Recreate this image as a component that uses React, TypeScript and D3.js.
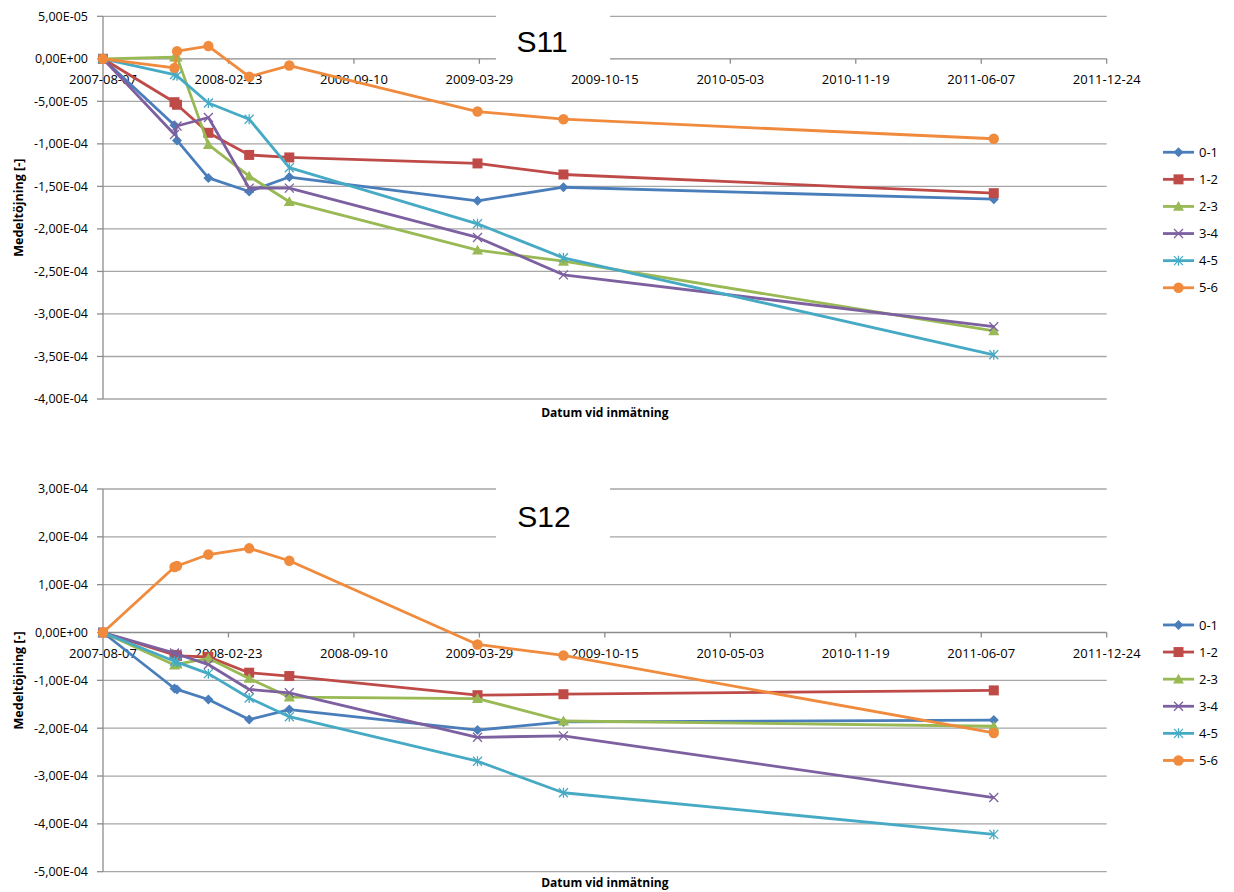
import React from "react";
import * as d3 from "d3";

// ---------- DATA ----------
const DATES = [
  "2007-08-07", "2007-11-29", "2007-12-03", "2008-01-22", "2008-03-27",
  "2008-05-30", "2009-03-26", "2009-08-10", "2011-06-27",
];
const SERIES_NAMES = ["0-1", "1-2", "2-3", "3-4", "4-5", "5-6"];

// S11
const S11_01 = [0, -7.8e-5, -9.6e-5, -1.40e-4, -1.56e-4, -1.39e-4, -1.67e-4, -1.51e-4, -1.65e-4];
const S11_12 = [0, -5.1e-5, -5.4e-5, -8.7e-5, -1.13e-4, -1.16e-4, -1.23e-4, -1.36e-4, -1.58e-4];
const S11_23 = [0, 2e-6, 2e-6, -1.01e-4, -1.38e-4, -1.68e-4, -2.25e-4, -2.38e-4, -3.20e-4];
const S11_34 = [0, -8.9e-5, -7.9e-5, -6.9e-5, -1.52e-4, -1.52e-4, -2.10e-4, -2.54e-4, -3.15e-4];
const S11_45 = [0, -1.85e-5, -2.0e-5, -5.2e-5, -7.1e-5, -1.28e-4, -1.94e-4, -2.34e-4, -3.48e-4];
const S11_56 = [0, -1.06e-5, 9e-6, 1.5e-5, -2.1e-5, -7.9e-6, -6.2e-5, -7.1e-5, -9.4e-5];

// S12
const S12_01 = [0, -1.17e-4, -1.19e-4, -1.40e-4, -1.82e-4, -1.61e-4, -2.04e-4, -1.87e-4, -1.83e-4];
const S12_12 = [0, -4.7e-5, -4.9e-5, -5.1e-5, -8.4e-5, -9.1e-5, -1.31e-4, -1.29e-4, -1.21e-4];
const S12_23 = [0, -6.8e-5, -6.6e-5, -5.4e-5, -9.6e-5, -1.35e-4, -1.38e-4, -1.85e-4, -1.96e-4];
const S12_34 = [0, -4.3e-5, -4.5e-5, -6.7e-5, -1.19e-4, -1.26e-4, -2.19e-4, -2.16e-4, -3.45e-4];
const S12_45 = [0, -6.0e-5, -6.2e-5, -8.6e-5, -1.37e-4, -1.76e-4, -2.69e-4, -3.35e-4, -4.22e-4];
const S12_56 = [0, 1.37e-4, 1.39e-4, 1.63e-4, 1.76e-4, 1.50e-4, -2.5e-5, -4.8e-5, -2.10e-4];

const X_TICKS = [
  "2007-08-07", "2008-02-23", "2008-09-10", "2009-03-29", "2009-10-15",
  "2010-05-03", "2010-11-19", "2011-06-07", "2011-12-24",
];
const S11_Y_TICKS = [5e-5, 0, -5e-5, -1e-4, -1.5e-4, -2e-4, -2.5e-4, -3e-4, -3.5e-4, -4e-4];
const S12_Y_TICKS = [3e-4, 2e-4, 1e-4, 0, -1e-4, -2e-4, -3e-4, -4e-4, -5e-4];

const COLORS = ["#4A7EBB", "#BE4B48", "#98B954", "#7D60A0", "#46AAC5", "#F08A3C"];
const MARKERS = ["diamond", "square", "triangle", "x", "star", "circle"];

const parse = d3.utcParse("%Y-%m-%d");

function fmtExp(v: number): string {
  if (v === 0) return "0,00E+00";
  const e = Math.floor(Math.log10(Math.abs(v)) + 1e-9);
  const m = v / Math.pow(10, e);
  return `${m.toFixed(2).replace(".", ",")}E${e < 0 ? "-" : "+"}${String(Math.abs(e)).padStart(2, "0")}`;
}

const TICK_FONT = "'Open Sans', 'Liberation Sans', sans-serif";

function Marker({ type, x, y, color }: { type: string; x: number; y: number; color: string }) {
  if (type === "diamond") {
    const r = 5;
    return <path d={`M${x},${y - r}L${x + r},${y}L${x},${y + r}L${x - r},${y}Z`} fill={color} />;
  }
  if (type === "square") {
    const r = 5;
    return <rect x={x - r} y={y - r} width={2 * r} height={2 * r} fill={color} />;
  }
  if (type === "triangle") {
    const r = 5.5;
    return <path d={`M${x},${y - r}L${x + r},${y + r * 0.8}L${x - r},${y + r * 0.8}Z`} fill={color} />;
  }
  if (type === "x") {
    const r = 4.5;
    return (
      <path d={`M${x - r},${y - r}L${x + r},${y + r}M${x - r},${y + r}L${x + r},${y - r}`} stroke={color} strokeWidth={1.3} fill="none" />
    );
  }
  if (type === "star") {
    const r = 4.5;
    return (
      <path
        d={`M${x - r},${y - r}L${x + r},${y + r}M${x - r},${y + r}L${x + r},${y - r}M${x},${y - r - 0.5}L${x},${y + r + 0.5}`}
        stroke={color}
        strokeWidth={1.3}
        fill="none"
      />
    );
  }
  return <circle cx={x} cy={y} r={5.2} fill={color} />;
}

type ChartProps = {
  top: number;
  bottom: number;
  yDomain: [number, number];
  yTicks: number[];
  series: number[][];
  title: string;
  titleBox: { x: number; y: number; w: number; h: number; tx: number; ty: number };
};

const LEFT = 103;
const RIGHT = 1106.7;

function Chart({ top, bottom, yDomain, yTicks, series, title, titleBox }: ChartProps) {
  const x = d3.scaleUtc().domain([parse(X_TICKS[0])!, parse(X_TICKS[X_TICKS.length - 1])!]).range([LEFT, RIGHT]);
  const y = d3.scaleLinear().domain(yDomain).range([bottom, top]);
  const y0 = y(0);
  const dates = DATES.map((d) => parse(d)!);
  const line = d3
    .line<number>()
    .x((_, i) => x(dates[i]))
    .y((v) => y(v));
  const midY = (top + bottom) / 2;
  const legendTop = midY - 55.4;

  return (
    <g>
      {/* gridlines */}
      {yTicks.map((t) => (
        <line key={"g" + t} x1={LEFT} x2={RIGHT} y1={y(t)} y2={y(t)} stroke={t === 0 ? "#8c8c8c" : "#a6a6a6"} strokeWidth={1.3} />
      ))}
      {/* y axis */}
      <line x1={LEFT} x2={LEFT} y1={top} y2={bottom} stroke="#8c8c8c" strokeWidth={1.3} />
      {yTicks.map((t) => (
        <line key={"yt" + t} x1={LEFT - 6} x2={LEFT} y1={y(t)} y2={y(t)} stroke="#8c8c8c" strokeWidth={1.3} />
      ))}
      {yTicks.map((t) => (
        <text key={"yl" + t} x={88} y={y(t)} dy="0.35em" textAnchor="end" fontFamily={TICK_FONT} fontSize={12.5} fill="#000">
          {fmtExp(t)}
        </text>
      ))}
      {/* x axis ticks */}
      {X_TICKS.map((t) => (
        <line key={"xt" + t} x1={x(parse(t)!)} x2={x(parse(t)!)} y1={y0} y2={y0 + 5} stroke="#8c8c8c" strokeWidth={1.3} />
      ))}
      {/* title box */}
      <rect x={titleBox.x} y={titleBox.y} width={titleBox.w} height={titleBox.h} fill="#fff" />
      <text x={titleBox.tx} y={titleBox.ty} textAnchor="middle" fontFamily="'Liberation Sans', Arial, sans-serif" fontSize={30} fill="#000">
        {title}
      </text>
      {X_TICKS.map((t) => (
        <text key={"xl" + t} x={x(parse(t)!)} y={y0 + 25} textAnchor="middle" fontFamily={TICK_FONT} fontSize={13} fill="#000">
          {t}
        </text>
      ))}
      {/* axis titles */}
      <text x={(LEFT + RIGHT) / 2} y={Math.min(bottom + 18, 887)} textAnchor="middle" fontFamily={TICK_FONT} fontWeight="bold" fontSize={12} fill="#000">
        Datum vid inmätning
      </text>
      <text
        transform={`translate(23,${midY}) rotate(-90)`}
        textAnchor="middle"
        fontFamily={TICK_FONT}
        fontWeight="bold"
        fontSize={12.5}
        fill="#000"
      >
        Medeltöjning [-]
      </text>
      {/* series */}
      {series.map((vals, si) => (
        <g key={"s" + si}>
          <path d={line(vals) || ""} fill="none" stroke={COLORS[si]} strokeWidth={2.8} strokeLinejoin="round" />
          {vals.map((v, i) => (
            <Marker key={i} type={MARKERS[si]} x={x(dates[i])} y={y(v)} color={COLORS[si]} />
          ))}
        </g>
      ))}
      {/* legend */}
      {SERIES_NAMES.map((n, i) => {
        const ly = legendTop + i * 27.1;
        return (
          <g key={"lg" + n}>
            <line x1={1163} x2={1194} y1={ly} y2={ly} stroke={COLORS[i]} strokeWidth={2.8} />
            <Marker type={MARKERS[i]} x={1178.5} y={ly} color={COLORS[i]} />
            <text x={1199} y={ly} dy="0.36em" fontFamily={TICK_FONT} fontSize={13} fill="#000">
              {n}
            </text>
          </g>
        );
      })}
    </g>
  );
}

export default function App() {
  return (
    <svg
      width={1234}
      height={892}
      style={{ position: "absolute", left: 0, top: 0, display: "block", background: "#fff" }}
    >
      <rect x={0} y={0} width={1234} height={892} fill="#fff" />
      <Chart
        top={16.3}
        bottom={399}
        yDomain={[-4e-4, 5e-5]}
        yTicks={S11_Y_TICKS}
        series={[S11_01, S11_12, S11_23, S11_34, S11_45, S11_56]}
        title="S11"
        titleBox={{ x: 496, y: 8, w: 114, h: 60, tx: 542, ty: 52 }}
      />
      <Chart
        top={489}
        bottom={871.7}
        yDomain={[-5e-4, 3e-4]}
        yTicks={S12_Y_TICKS}
        series={[S12_01, S12_12, S12_23, S12_34, S12_45, S12_56]}
        title="S12"
        titleBox={{ x: 496, y: 480, w: 114, h: 66, tx: 544, ty: 527 }}
      />
    </svg>
  );
}
